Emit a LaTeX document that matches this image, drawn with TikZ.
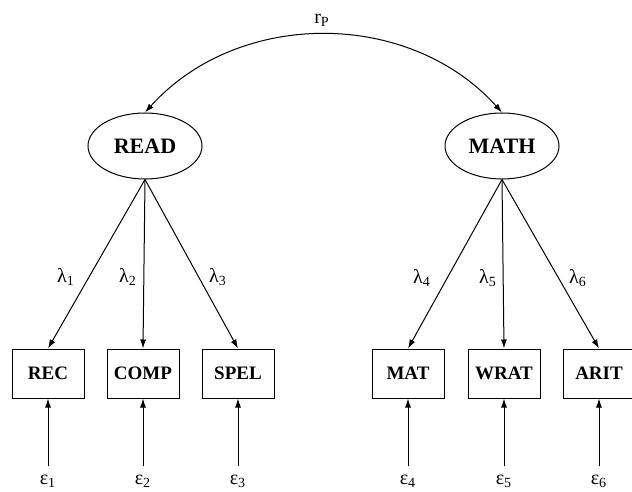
\documentclass[tikz,border=0pt]{standalone}
\usepackage{fontspec}
\setmainfont{Liberation Serif}
\usepackage{tikz}
\usetikzlibrary{arrows.meta, shapes.geometric}

\tikzset{
    latent/.style={ellipse, draw, line width=0.5pt, minimum width=57pt, minimum height=33pt, inner sep=0pt, font=\fontsize{11}{13}\selectfont\bfseries},
    obsbox/.style={rectangle, draw, line width=0.5pt, minimum width=36pt, minimum height=24.5pt, inner sep=0pt, font=\fontsize{9.5}{11}\selectfont\bfseries},
    parlabel/.style={font=\fontsize{10}{12}\selectfont, inner sep=1pt},
    arr/.style={line width=0.5pt, -{Latex[length=4.5pt, width=3pt]}}
}

\begin{document}
\begin{tikzpicture}[x=0.5pt, y=-0.5pt]
    % Page size of the reference (pixel units, y downwards)
    \useasboundingbox (0,0) rectangle (632,492);

    % Latent factors
    \node[latent] (READ) at (145,146) {READ};
    \node[latent] (MATH) at (502,146) {MATH};

    % Correlation between the factors
    \draw[line width=0.5pt, {Latex[length=4.5pt, width=3pt]}-{Latex[length=4.5pt, width=3pt]}]
        (READ.north) to[bend left=48] (MATH.north);
    \node[parlabel] (rP) at (322,20) {r\textsubscript{P}};

    % Observed measures with their error terms
    % Format: name / x position / factor
    \foreach \name/\x/\fac [count=\i] in {REC/48/READ, COMP/143/READ, SPEL/238/READ,
                                          MAT/408/MATH, WRAT/504/MATH, ARIT/599/MATH} {
        \node[obsbox] (\name) at (\x,373.5) {\name};
        \draw[arr] (\fac.south) -- (\name.north);
        \node[parlabel] (e\i) at (\x,481) {ε\textsubscript{\i}};
        \draw[arr, shorten <=3pt] (e\i.north) -- (\name.south);
    }

    % Loadings
    \node[parlabel] (l1) at (66,277)  {λ\textsubscript{1}};
    \node[parlabel] (l2) at (128,277) {λ\textsubscript{2}};
    \node[parlabel] (l3) at (218,277) {λ\textsubscript{3}};
    \node[parlabel] (l4) at (422,278) {λ\textsubscript{4}};
    \node[parlabel] (l5) at (488,278) {λ\textsubscript{5}};
    \node[parlabel] (l6) at (578,278) {λ\textsubscript{6}};
\end{tikzpicture}
\end{document}
